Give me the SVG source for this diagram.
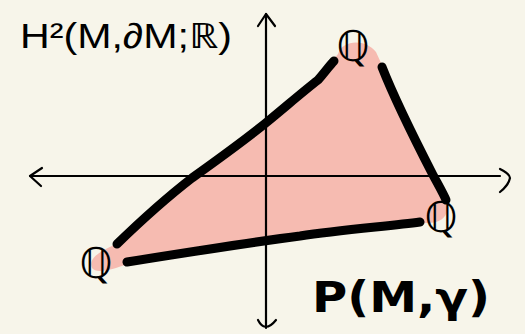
<svg xmlns="http://www.w3.org/2000/svg" width="525" height="334" viewBox="0 0 525 334">
<style>
.axis{fill:none;stroke:#000;stroke-width:2.2;stroke-linecap:round;stroke-linejoin:round}
.edge{fill:none;stroke:#000;stroke-width:9;stroke-linecap:round;stroke-linejoin:round}
.q{font-family:"DejaVu Sans",sans-serif;font-size:42px;fill:#000;text-anchor:middle}
</style>
<rect width="525" height="334" fill="#f7f5ea"/>
<g id="polytope">
<path d="M92,268 C88,258 100,252 112,246 L190,178 L267,122 L317,80 L338,54 C342,40 365,38 376,52 L446,205 C450,216 440,224 425,223 L370,230 L127,264 C112,270 96,274 92,268 Z" fill="#f6bbb1"/>
</g>
<g id="axes">
<path class="axis" d="M30,176 L500,176"/>
<path class="axis" d="M42,168 L30,176 L41,186"/>
<path class="axis" d="M500,169 C506,172 510,175 510,178 C509,183 505,188 500,192"/>
<path class="axis" d="M266,14 L266,328"/>
<path class="axis" d="M258,26 L266,14 L275,26"/>
<path class="axis" d="M258,320 C262,328 268,330 276,320"/>
</g>
<g id="connectors">
<path class="edge" d="M117,244 C150,212 170,195 192,178 C220,158 245,140 267,122 C290,103 305,90 318,80 C325,72 330,65 334,61"/>
<path class="edge" d="M382,67 C395,100 415,140 433,175 C440,188 444,195 446,200"/>
<path class="edge" d="M127,262 C190,252 260,241 300,236 C340,230 390,226 420,222"/>
</g>
<g id="vertex-top"><text class="q" x="353" y="61">ℚ</text></g>
<g id="vertex-right"><text class="q" x="441" y="232">ℚ</text></g>
<g id="vertex-left"><text class="q" x="96" y="278">ℚ</text></g>
<g id="label-h2"><text x="20" y="48" font-family="'Liberation Sans',sans-serif" font-size="35" textLength="212" lengthAdjust="spacingAndGlyphs" fill="#000">H²(M,∂M;ℝ)</text></g>
<g id="label-p"><text x="312" y="312" font-family="'DejaVu Sans',sans-serif" font-size="42" font-weight="bold" textLength="178" lengthAdjust="spacingAndGlyphs" fill="#000">P(M,γ)</text></g>
</svg>
